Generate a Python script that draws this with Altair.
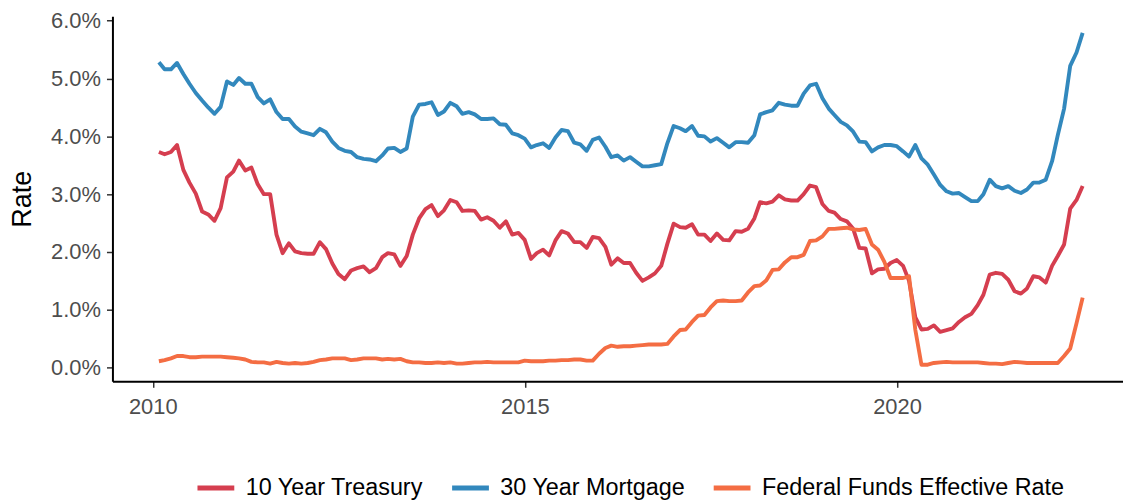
import altair as alt
import pandas as pd

series_names = ["10 Year Treasury", "30 Year Mortgage", "Federal Funds Effective Rate"]
series_colors = ["#D53E4F", "#3288BD", "#F46D43"]

# monthly observations, Jan 2010 .. Jun 2022 (percent)
treasury_10y = [
    3.73, 3.69, 3.73, 3.85, 3.42, 3.20, 3.01, 2.70, 2.65, 2.54, 2.76, 3.29,
    3.39, 3.58, 3.41, 3.46, 3.17, 3.00, 3.00, 2.30, 1.98, 2.15, 2.01, 1.98,
    1.97, 1.97, 2.17, 2.05, 1.80, 1.62, 1.53, 1.68, 1.72, 1.75, 1.65, 1.72,
    1.91, 1.98, 1.96, 1.76, 1.93, 2.30, 2.58, 2.74, 2.81, 2.62, 2.72, 2.90,
    2.86, 2.71, 2.72, 2.71, 2.56, 2.60, 2.54, 2.42, 2.53, 2.30, 2.33, 2.21,
    1.88, 1.98, 2.04, 1.94, 2.20, 2.36, 2.32, 2.17, 2.17, 2.07, 2.26, 2.24,
    2.09, 1.78, 1.89, 1.81, 1.81, 1.64, 1.50, 1.56, 1.63, 1.76, 2.14, 2.49,
    2.43, 2.42, 2.48, 2.30, 2.30, 2.19, 2.32, 2.21, 2.20, 2.36, 2.35, 2.40,
    2.58, 2.86, 2.84, 2.87, 2.98, 2.91, 2.89, 2.89, 3.00, 3.15, 3.12, 2.83,
    2.71, 2.68, 2.57, 2.53, 2.40, 2.07, 2.06, 1.63, 1.70, 1.71, 1.81, 1.86,
    1.76, 1.50, 0.87, 0.66, 0.67, 0.73, 0.62, 0.65, 0.68, 0.79, 0.87, 0.93,
    1.08, 1.26, 1.61, 1.64, 1.62, 1.52, 1.32, 1.28, 1.37, 1.58, 1.56, 1.47,
    1.76, 1.93, 2.13, 2.75, 2.90, 3.14,
]

mortgage_30y = [
    5.28, 5.16, 5.16, 5.27, 5.08, 4.91, 4.75, 4.62, 4.50, 4.39, 4.51, 4.95,
    4.89, 5.01, 4.91, 4.91, 4.68, 4.57, 4.64, 4.42, 4.30, 4.30, 4.17, 4.08,
    4.05, 4.02, 4.13, 4.07, 3.91, 3.80, 3.75, 3.73, 3.64, 3.61, 3.60, 3.57,
    3.67, 3.79, 3.80, 3.73, 3.79, 4.34, 4.55, 4.56, 4.59, 4.37, 4.43, 4.58,
    4.52, 4.39, 4.42, 4.38, 4.30, 4.30, 4.31, 4.21, 4.20, 4.05, 4.02, 3.96,
    3.81, 3.85, 3.88, 3.80, 3.98, 4.11, 4.09, 3.89, 3.86, 3.75, 3.94, 3.98,
    3.82, 3.64, 3.67, 3.58, 3.64, 3.56, 3.48, 3.48, 3.50, 3.52, 3.88, 4.18,
    4.14, 4.09, 4.18, 4.01, 4.00, 3.91, 3.97, 3.89, 3.81, 3.90, 3.90, 3.89,
    4.02, 4.38, 4.42, 4.45, 4.58, 4.55, 4.53, 4.53, 4.74, 4.88, 4.91, 4.66,
    4.48, 4.37, 4.25, 4.19, 4.08, 3.91, 3.90, 3.74, 3.81, 3.85, 3.85, 3.83,
    3.74, 3.65, 3.85, 3.62, 3.51, 3.34, 3.16, 3.05, 3.01, 3.02, 2.95, 2.88,
    2.88, 3.00, 3.25, 3.14, 3.10, 3.14, 3.06, 3.02, 3.08, 3.20, 3.20, 3.25,
    3.57, 4.02, 4.48, 5.22, 5.45, 5.79,
]

fed_funds = [
    0.11, 0.13, 0.16, 0.20, 0.20, 0.18, 0.18, 0.19, 0.19, 0.19, 0.19, 0.18,
    0.17, 0.16, 0.14, 0.10, 0.09, 0.09, 0.07, 0.10, 0.08, 0.07, 0.08, 0.07,
    0.08, 0.10, 0.13, 0.14, 0.16, 0.16, 0.16, 0.13, 0.14, 0.16, 0.16, 0.16,
    0.14, 0.15, 0.14, 0.15, 0.11, 0.09, 0.09, 0.08, 0.08, 0.09, 0.08, 0.09,
    0.07, 0.07, 0.08, 0.09, 0.09, 0.10, 0.09, 0.09, 0.09, 0.09, 0.09, 0.12,
    0.11, 0.11, 0.11, 0.12, 0.12, 0.13, 0.13, 0.14, 0.14, 0.12, 0.12, 0.24,
    0.34, 0.38, 0.36, 0.37, 0.37, 0.38, 0.39, 0.40, 0.40, 0.40, 0.41, 0.54,
    0.65, 0.66, 0.79, 0.90, 0.91, 1.04, 1.15, 1.16, 1.15, 1.15, 1.16, 1.30,
    1.41, 1.42, 1.51, 1.69, 1.70, 1.82, 1.91, 1.91, 1.95, 2.19, 2.20, 2.27,
    2.40, 2.40, 2.41, 2.42, 2.39, 2.38, 2.40, 2.13, 2.04, 1.83, 1.55, 1.55,
    1.55, 1.58, 0.65, 0.05, 0.05, 0.08, 0.09, 0.10, 0.09, 0.09, 0.09, 0.09,
    0.09, 0.08, 0.07, 0.07, 0.06, 0.08, 0.10, 0.09, 0.08, 0.08, 0.08, 0.08,
    0.08, 0.08, 0.20, 0.33, 0.77, 1.21,
]

n = len(treasury_10y)
months = pd.date_range(start="2010-01-01", periods=n, freq="MS") + pd.offsets.MonthEnd(0)
month_str = [d.strftime("%Y-%m-%d") for d in months]

rows = []
for name, vals in zip(series_names, [treasury_10y, mortgage_30y, fed_funds]):
    for d, v in zip(month_str, vals):
        rows.append({"date": d, "rate": v, "series": name})
df = pd.DataFrame(rows)

FONT = "Liberation Sans"
W, H = 1016, 367

chart = alt.Chart(df).mark_line(strokeWidth=3.9, strokeJoin="round").encode(
    x=alt.X(
        "date:T",
        scale=alt.Scale(
            type="utc",
            domain=[alt.DateTime(year=2009, month=6, date=17, utc=True),
                    alt.DateTime(year=2023, month=1, date=14, utc=True)],
            nice=False,
        ),
        axis=alt.Axis(
            title=None,
            values=[alt.DateTime(year=2010, month=1, date=1, utc=True),
                    alt.DateTime(year=2015, month=1, date=1, utc=True),
                    alt.DateTime(year=2020, month=1, date=1, utc=True)],
            format="%Y",
            grid=False,
            domainColor="black",
            domainWidth=2,
            tickColor="#333333",
            tickWidth=1.5,
            tickSize=6,
            labelFont=FONT,
            labelFontSize=22,
            labelColor="#4D4D4D",
            labelPadding=9,
        ),
    ),
    y=alt.Y(
        "rate:Q",
        scale=alt.Scale(domain=[-0.237, 6.077], nice=False, zero=False),
        axis=alt.Axis(
            title="Rate",
            values=[0, 1, 2, 3, 4, 5, 6],
            labelExpr="format(datum.value, '.1f') + '%'",
            grid=False,
            domainColor="black",
            domainWidth=2,
            tickColor="#333333",
            tickWidth=1.5,
            tickSize=6,
            labelFont=FONT,
            labelFontSize=22,
            labelColor="#4D4D4D",
            labelPadding=6,
            titleFont=FONT,
            titleFontSize=27,
            titleFontWeight="normal",
            titleColor="black",
            titleAngle=270,
            titleAlign="center",
            titleBaseline="middle",
            titleX=-90,
            titleY=H / 2,
        ),
    ),
    color=alt.Color(
        "series:N",
        scale=alt.Scale(domain=series_names, range=series_colors),
        legend=alt.Legend(
            title=None,
            orient="none",
            direction="horizontal",
            legendX=83,
            legendY=453,
            symbolType="stroke",
            symbolSize=1369,
            symbolStrokeWidth=5,
            labelFont=FONT,
            labelFontSize=23.5,
            labelColor="black",
            labelLimit=600,
            labelOffset=9,
            columnPadding=18,
            padding=0,
        ),
    ),
    order=alt.Order("date:T"),
).properties(
    width=W,
    height=H,
    background="white",
    autosize=alt.AutoSizeParams(type="none"),
    padding={"left": 105, "top": 7, "right": 0, "bottom": 118},
).configure_view(stroke=None)

chart.save("out.html", embed_options={"renderer": "svg", "actions": False})
